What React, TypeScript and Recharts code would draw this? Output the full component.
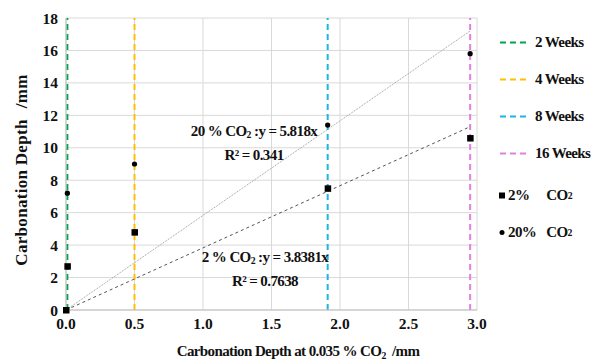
import {
  ScatterChart,
  Scatter,
  XAxis,
  YAxis,
  CartesianGrid,
  ReferenceLine,
} from 'recharts'

const co2Low = [
  { x: 0, y: 0 },
  { x: 0.01, y: 2.7 },
  { x: 0.5, y: 4.8 },
  { x: 1.91, y: 7.5 },
  { x: 2.95, y: 10.6 },
]
const co2High = [
  { x: 0.01, y: 7.2 },
  { x: 0.5, y: 9.0 },
  { x: 1.91, y: 11.4 },
  { x: 2.95, y: 15.8 },
]
// trendline end points
const trendHigh = [
  { x: 0, y: 0 },
  { x: 2.95, y: 17.2 },
]
const trendLow = [
  { x: 0, y: 0 },
  { x: 2.95, y: 11.3 },
]
const weeks = [
  { name: '2 Weeks', x: 0.01, color: '#00a651' },
  { name: '4 Weeks', x: 0.5, color: '#ffc000' },
  { name: '8 Weeks', x: 1.91, color: '#1db4e6' },
  { name: '16 Weeks', x: 2.95, color: '#e27fe2' },
]
const xTicks = [0, 0.5, 1, 1.5, 2, 2.5, 3]
const yTicks = [0, 2, 4, 6, 8, 10, 12, 14, 16, 18]

const SERIF = 'Liberation Serif'
const tickStyle = { fill: '#111', fontSize: 15.5, fontWeight: 700, fontFamily: SERIF }

const Square = (p: any) => <rect x={p.cx - 3} y={p.cy - 3} width={6.5} height={6.5} fill="#000" />
const Dot = (p: any) => <circle cx={p.cx} cy={p.cy} r={2.6} fill="#000" />
const None = () => null

const Sub = ({ children }: { children: string }) => (
  <span style={{ fontSize: '0.65em', verticalAlign: '-0.25em' }}>{children}</span>
)

export default function App() {
  const txt = {
    position: 'absolute' as const,
    fontFamily: SERIF,
    fontWeight: 700,
    fontSize: 15,
    letterSpacing: -0.6,
    color: '#111',
    whiteSpace: 'nowrap' as const,
  }
  const legendRows = [42, 79, 116, 153]
  return (
    <div style={{ position: 'absolute', left: 0, top: 0, width: 600, height: 363, background: '#fff', fontFamily: SERIF }}>
      <ScatterChart width={600} height={363} margin={{ top: 18, right: 123, bottom: 29, left: 30 }}>
        <CartesianGrid stroke="#d9d9d9" />
        <XAxis
          type="number"
          dataKey="x"
          domain={[0, 3]}
          ticks={xTicks}
          tickFormatter={(v) => v.toFixed(1)}
          tick={tickStyle}
          axisLine={{ stroke: '#bfbfbf' }}
          tickLine={false}
          height={24}
        />
        <YAxis
          type="number"
          dataKey="y"
          domain={[0, 18]}
          ticks={yTicks}
          tick={tickStyle}
          axisLine={{ stroke: '#bfbfbf' }}
          tickLine={false}
          width={36}
        />
        {weeks.map((w) => (
          <ReferenceLine key={w.name} x={w.x} stroke={w.color} strokeWidth={2} strokeDasharray="6 4" />
        ))}
        <Scatter data={trendHigh} shape={None} line={{ stroke: '#9a9a9a', strokeWidth: 1, strokeDasharray: '1 1' }} isAnimationActive={false} />
        <Scatter data={trendLow} shape={None} line={{ stroke: '#555', strokeWidth: 1, strokeDasharray: '3 3' }} isAnimationActive={false} />
        <Scatter data={co2Low} shape={Square} isAnimationActive={false} />
        <Scatter data={co2High} shape={Dot} isAnimationActive={false} />
      </ScatterChart>

      <div style={{ ...txt, fontSize: 17, letterSpacing: 0.3, left: 22, top: 170, transform: 'translate(-50%,-50%) rotate(-90deg)' }}>
        Carbonation Depth<span style={{ display: 'inline-block', width: 11 }} />/mm
      </div>
      <div style={{ ...txt, left: 298, top: 352, transform: 'translate(-50%,-50%)' }}>
        Carbonation Depth at 0.035 % CO<Sub>2</Sub>&nbsp;&nbsp;/mm
      </div>

      <div style={{ ...txt, left: 254, top: 121, transform: 'translateX(-50%)', textAlign: 'center', lineHeight: '20px' }}>
        <div>20 % CO<Sub>2</Sub> :y = 5.818x</div>
        <div>R² = 0.341</div>
      </div>
      <div style={{ ...txt, left: 265, top: 247, transform: 'translateX(-50%)', textAlign: 'center', lineHeight: '20px' }}>
        <div>2 % CO<Sub>2</Sub> :y = 3.8381x</div>
        <div>R² = 0.7638</div>
      </div>

      {weeks.map((w, i) => (
        <div key={w.name} style={{ ...txt, left: 500, top: legendRows[i], transform: 'translateY(-50%)', display: 'flex', alignItems: 'center' }}>
          <svg width={29} height={4} style={{ marginRight: 6 }}>
            <line x1={0} y1={2} x2={29} y2={2} stroke={w.color} strokeWidth={2} strokeDasharray="6 4" />
          </svg>
          {w.name}
        </div>
      ))}
      <div style={{ ...txt, left: 499, top: 195, transform: 'translateY(-50%)', display: 'flex', alignItems: 'center' }}>
        <svg width={7} height={8} style={{ marginRight: 2 }}><rect x={0} y={1} width={6} height={6} fill="#000" /></svg>
        2%<span style={{ display: 'inline-block', width: 17 }} />CO<Sub>2</Sub>
      </div>
      <div style={{ ...txt, left: 499, top: 232, transform: 'translateY(-50%)', display: 'flex', alignItems: 'center' }}>
        <svg width={7} height={8} style={{ marginRight: 2 }}><circle cx={3} cy={4} r={2.5} fill="#000" /></svg>
        20%<span style={{ display: 'inline-block', width: 10 }} />CO<Sub>2</Sub>
      </div>
    </div>
  )
}
